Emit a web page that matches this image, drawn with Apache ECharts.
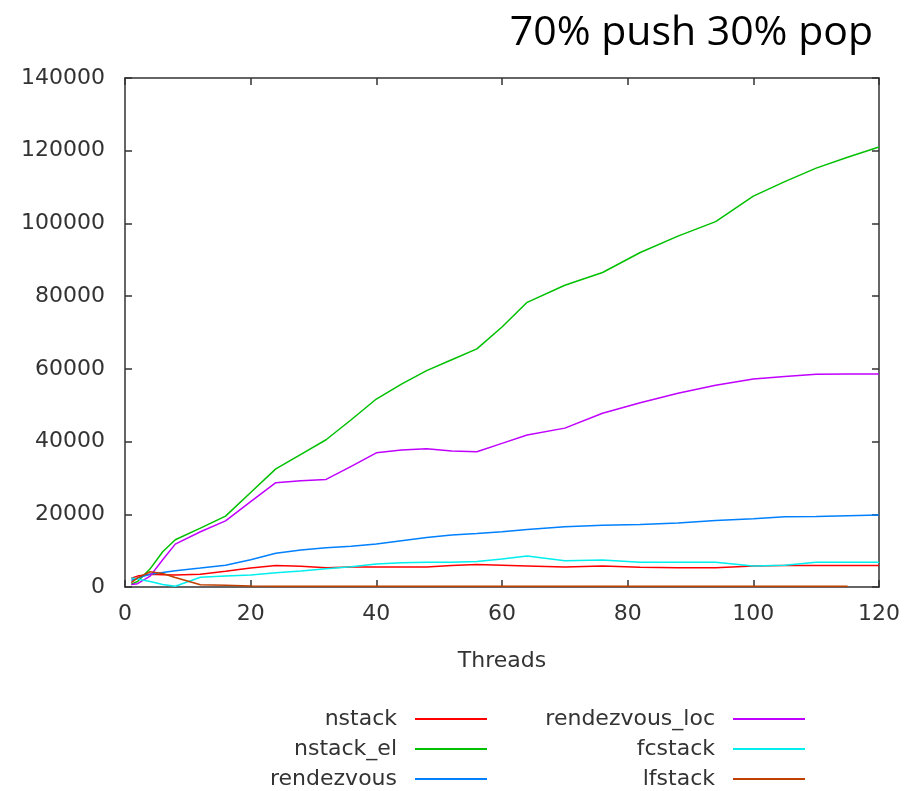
<!DOCTYPE html>
<html>
<head>
<meta charset="utf-8">
<title>70% push 30% pop</title>
<script src="https://cdn.jsdelivr.net/npm/echarts@6/dist/echarts.min.js"></script>
<style>
    html, body { margin: 0; padding: 0; background: #fff; }
    #main { width: 904px; height: 791px; }
</style>
</head>
<body>
<div id="main"></div>
<script>
// x 轴：线程数
const threads = [1, 2, 4, 6, 8, 12, 16, 20, 24, 28, 32, 36, 40, 44, 48, 52, 56, 60, 64, 70, 76, 82, 88, 94, 100, 105, 110, 115, 120];

// 各实现的吞吐量
const nstack = [2400, 3000, 3500, 3400, 3300, 3500, 4300, 5200, 5900, 5700, 5300, 5500, 5500, 5500, 5500, 5900, 6200, 6000, 5800, 5500, 5800, 5400, 5300, 5300, 5800, 5900, 5900, 5900, 5900];
const nstackEl = [800, 1500, 5000, 9700, 13000, 16200, 19500, 26000, 32500, 36500, 40500, 46000, 51700, 55800, 59500, 62500, 65500, 71500, 78300, 83000, 86500, 92000, 96500, 100500, 107500, 111500, 115200, 118200, 121000];
const rendezvous = [1800, 2500, 3500, 4000, 4500, 5200, 6000, 7500, 9300, 10200, 10800, 11200, 11800, 12700, 13600, 14300, 14700, 15200, 15800, 16600, 17000, 17200, 17600, 18300, 18800, 19300, 19400, 19600, 19800];
const rendezvousLoc = [700, 900, 3000, 7500, 11800, 15200, 18200, 23500, 28700, 29200, 29600, 33200, 36900, 37700, 38000, 37400, 37200, 39500, 41800, 43700, 47800, 50700, 53300, 55500, 57200, 57900, 58500, 58600, 58600];
const fcstack = [2500, 2200, 1500, 700, 200, 2700, 3000, 3300, 3900, 4400, 5000, 5600, 6300, 6700, 6800, 6800, 7000, 7700, 8500, 7200, 7400, 6800, 6800, 6800, 5800, 6000, 6800, 6800, 6800];
const lfstack = [1200, 2500, 4200, 3700, 2600, 600, 500, 300, 200, 200, 200, 200, 200, 200, 200, 200, 200, 200, 200, 200, 200, 200, 200, 200, 200, 200, 200, 200, null];

const xTicks = [0, 20, 40, 60, 80, 100, 120];
const yTicks = [0, 20000, 40000, 60000, 80000, 100000, 120000, 140000];

const seriesNames = ['nstack', 'nstack_el', 'rendezvous', 'rendezvous_loc', 'fcstack', 'lfstack'];
const seriesValues = [nstack, nstackEl, rendezvous, rendezvousLoc, fcstack, lfstack];
const seriesColors = ['#ff0000', '#00c000', '#0080ff', '#c000ff', '#00eeee', '#c04000'];

const axisColor = '#333';
const labelFont = { fontFamily: 'DejaVu Sans', fontSize: 22, color: '#333' };

function toPoints(values) {
    return threads.map((t, i) => [t, values[i]]).filter(p => p[1] !== null);
}

function frameAxis(extra) {
    return Object.assign({
        axisLine: { show: true, onZero: false, lineStyle: { color: axisColor, width: 1.5 } },
        axisTick: { show: true, inside: true, length: 7, lineStyle: { color: axisColor, width: 1.5 } },
        splitLine: { show: false }
    }, extra);
}

// 图例：gnuplot 风格，文字右对齐，线段在右边
function keyColumn(names, right) {
    return {
        data: names,
        orient: 'vertical',
        align: 'right',
        right: right,
        top: 708,
        padding: 0,
        itemGap: 8,
        itemWidth: 72,
        itemHeight: 2,
        icon: 'rect',
        textStyle: Object.assign({ lineHeight: 22, padding: [0, 13, 0, 0] }, labelFont)
    };
}

const chart = echarts.init(document.getElementById('main'), null, { renderer: 'canvas' });

const option = {
    animation: false,
    backgroundColor: '#fff',
    title: {
        text: '70% push 30% pop',
        right: 31,
        top: 13,
        padding: 0,
        textStyle: { fontFamily: 'Open Sans', fontSize: 41, fontWeight: 'normal', color: '#000' }
    },
    grid: { left: 125, right: 25, top: 78, bottom: 204 },
    legend: [
        keyColumn(seriesNames.slice(0, 3), 417),
        keyColumn(seriesNames.slice(3), 99)
    ],
    xAxis: [
        frameAxis({
            type: 'value',
            position: 'bottom',
            min: xTicks[0],
            max: xTicks[xTicks.length - 1],
            interval: 20,
            name: 'Threads',
            nameLocation: 'middle',
            nameGap: 63,
            nameTextStyle: labelFont,
            axisLabel: Object.assign({ margin: 16 }, labelFont)
        }),
        frameAxis({
            type: 'value',
            position: 'top',
            min: xTicks[0],
            max: xTicks[xTicks.length - 1],
            interval: 20,
            axisLabel: { show: false }
        })
    ],
    yAxis: [
        frameAxis({
            type: 'value',
            position: 'left',
            min: yTicks[0],
            max: yTicks[yTicks.length - 1],
            interval: 20000,
            axisLabel: Object.assign({ margin: 20, formatter: v => String(v) }, labelFont)
        }),
        frameAxis({
            type: 'value',
            position: 'right',
            min: yTicks[0],
            max: yTicks[yTicks.length - 1],
            interval: 20000,
            axisLabel: { show: false }
        })
    ],
    series: seriesNames.map((name, i) => ({
        name: name,
        type: 'line',
        xAxisIndex: 0,
        yAxisIndex: 0,
        symbol: 'none',
        data: toPoints(seriesValues[i]),
        color: seriesColors[i],
        lineStyle: { color: seriesColors[i], width: 1.5 }
    }))
};

chart.setOption(option);
</script>
</body>
</html>
